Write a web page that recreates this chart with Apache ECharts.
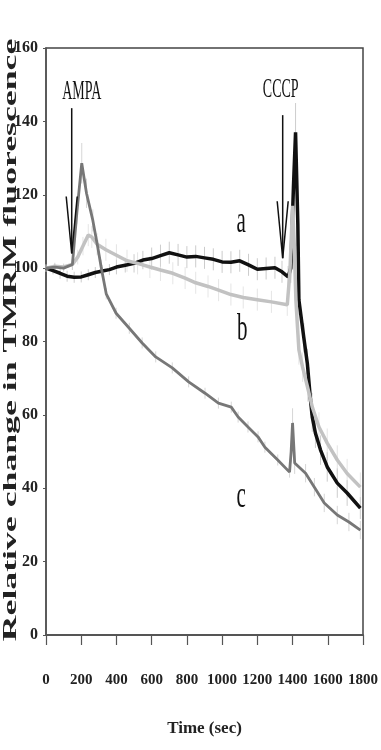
<!DOCTYPE html>
<html>
<head>
<meta charset="utf-8">
<script src="https://cdn.jsdelivr.net/npm/echarts@6/dist/echarts.min.js"></script>
<style>
  html, body { margin: 0; padding: 0; background: #fff; }
  #container { width: 381px; height: 750px; }
</style>
</head>
<body>
<div id="container"></div>
<script>
// curve a (black)
var aTime = [0, 40, 80, 120, 160, 200, 240, 280, 320, 360, 400, 450, 500, 550, 600, 650, 700, 750, 800, 850, 900, 950, 1000, 1050, 1100, 1150, 1200, 1250, 1300, 1340, 1375, 1390, 1405, 1417, 1430, 1436, 1464, 1484, 1493, 1502, 1512, 1530, 1559, 1597, 1654, 1710, 1785];
var aVal = [100, 99.3, 98.6, 97.8, 97.5, 97.6, 98.2, 98.8, 99.2, 99.6, 100.3, 100.8, 101.3, 102.2, 102.6, 103.4, 104.2, 103.6, 103, 103.2, 102.8, 102.4, 101.7, 101.6, 102, 100.9, 99.7, 99.9, 100.1, 99, 97.6, 100, 122, 137, 112, 91.3, 81, 74, 69, 64, 59.4, 55, 50.4, 45.8, 41.4, 38.7, 34.6];
var aErr = [1, 1, 1.5, 1.5, 1.5, 1.5, 1.5, 1.5, 1.5, 1.5, 2, 2, 2.5, 2.5, 3, 3, 3, 3, 3, 3, 3, 3, 3, 3, 3, 3, 3, 3, 3, 3, 3, 4, 6, 8, 6, 4, 4, 4, 4, 4, 4, 4, 4, 4, 4, 3.5, 3];

// curve b (light grey)
var bTime = [0, 50, 100, 150, 180, 210, 240, 260, 290, 340, 400, 460, 520, 590, 650, 720, 790, 850, 920, 980, 1050, 1120, 1200, 1280, 1370, 1385, 1400, 1410, 1419, 1428, 1436, 1457, 1485, 1513, 1550, 1597, 1654, 1710, 1785];
var bVal = [100, 100.5, 100.3, 101, 103, 106, 109, 108.5, 106.5, 105, 103.5, 102, 101.3, 100.3, 99.5, 98.6, 97.3, 96, 95, 94, 92.8, 92, 91.4, 90.8, 90, 99, 117, 106, 91.3, 84, 77.7, 73, 67.6, 62, 56.7, 52.3, 47.7, 44, 40.3];
var bErr = [1, 1, 1, 1.5, 2, 2.5, 3, 3, 3, 3, 3, 3, 3, 3, 3, 3, 3, 3, 3, 3, 3, 3, 3, 3, 3, 3, 5, 4, 4, 4, 4, 4, 4, 4, 4, 4, 4, 4, 4];

// curve c (mid grey)
var cTime = [0, 50, 100, 150, 175, 203, 230, 266, 294, 313, 342, 398, 473, 546, 623, 717, 810, 903, 979, 1052, 1091, 1147, 1204, 1243, 1316, 1383, 1392, 1400, 1412, 1474, 1524, 1580, 1654, 1720, 1785];
var cVal = [100, 100.3, 100, 101, 115, 128.6, 120.4, 113, 105.7, 100.3, 93, 87.7, 83.6, 79.6, 75.8, 72.8, 69, 65.9, 63.2, 62.1, 59.4, 56.7, 54, 51.2, 47.7, 44.4, 50, 57.8, 46.9, 44.1, 40.3, 36, 32.7, 30.8, 28.6];
var cErr = [1, 1, 1, 1.5, 3, 5.5, 4, 3, 2, 2, 1.5, 1.5, 1.5, 1.5, 1.5, 1.5, 1.5, 1.5, 1.5, 1.5, 1.5, 1.5, 1.5, 1.5, 1.5, 1.5, 3, 4, 3, 2.5, 2.5, 2.5, 2.5, 2.5, 2.5];

// arrows (drug additions)
var arrowLabels = ['AMPA', 'CCCP'];
var arrowTime = [146, 1344];
var arrowTop = [143.6, 141.7];
var arrowTip = [104, 102.7];
var labelTime = [203, 1333];
var labelValue = [148, 148.5];

// curve letters
var letterNames = ['a', 'b', 'c'];
var letterTime = [1108, 1114, 1108];
var letterValue = [112.5, 83, 37.6];

var serif = '"Liberation Serif", "DejaVu Serif", serif';

function pairs(t, v) {
    return t.map(function (x, i) { return [x, v[i]]; });
}
function triples(t, v, e) {
    return t.map(function (x, i) { return [x, v[i], e[i]]; });
}

function errorSeries(t, v, e, color) {
    return {
        type: 'custom',
        z: 1,
        silent: true,
        data: triples(t, v, e),
        encode: { x: 0, y: 1 },
        renderItem: function (params, api) {
            var x = api.value(0), y = api.value(1), d = api.value(2);
            var p1 = api.coord([x, y - d]);
            var p2 = api.coord([x, y + d]);
            return {
                type: 'line',
                shape: { x1: p1[0], y1: p1[1], x2: p2[0], y2: p2[1] },
                style: { stroke: color, lineWidth: 0.6 }
            };
        }
    };
}

function lineSeries(name, t, v, color, width, z) {
    return {
        name: name,
        type: 'line',
        z: z,
        showSymbol: false,
        smooth: false,
        data: pairs(t, v),
        lineStyle: { color: color, width: width },
        itemStyle: { color: color }
    };
}

var dom = document.getElementById('container');
var myChart = echarts.init(dom);

var option = {
    animation: false,
    backgroundColor: '#fff',
    grid: {
        left: 46, right: 15, top: 48, bottom: 115,
        show: true, borderColor: '#444', borderWidth: 1.5
    },
    xAxis: {
        type: 'value',
        min: 0, max: 1800, interval: 200,
        name: 'Time (sec)',
        nameLocation: 'middle',
        nameGap: 85,
        nameTextStyle: { fontFamily: serif, fontWeight: 'bold', fontSize: 17, color: '#222' },
        axisLine: { show: true, onZero: false, lineStyle: { color: '#555', width: 2 } },
        axisTick: { show: true, length: 10, lineStyle: { color: '#555', width: 1.2 } },
        axisLabel: {
            margin: 38, fontFamily: serif, fontWeight: 'bold', fontSize: 15, color: '#222',
            formatter: function (v) { return String(v); }
        },
        splitLine: { show: false }
    },
    yAxis: {
        type: 'value',
        min: 0, max: 160, interval: 20,
        axisLine: { show: true, onZero: false, lineStyle: { color: '#555', width: 1.5 } },
        axisTick: { show: true, length: 3, lineStyle: { color: '#555' } },
        axisLabel: {
            margin: 8, fontFamily: serif, fontWeight: 'bold', fontSize: 16, color: '#222',
            formatter: function (v) { return String(v); }
        },
        splitLine: { show: false }
    },
    graphic: [{
        type: 'text',
        x: 11, y: 340,
        rotation: Math.PI / 2,
        scaleX: 1.88,
        style: {
            text: 'Relative change in TMRM fluorescence',
            font: 'bold 19px ' + serif,
            fill: '#222',
            align: 'center', verticalAlign: 'middle',
            textAlign: 'center', textVerticalAlign: 'middle'
        }
    }],
    series: [
        errorSeries(aTime, aVal, aErr, '#aaa'),
        errorSeries(bTime, bVal, bErr, '#d4d4d4'),
        errorSeries(cTime, cVal, cErr, '#bbb'),
        lineSeries('a', aTime, aVal, '#111', 3.5, 3),
        lineSeries('b', bTime, bVal, '#c2c2c2', 3.5, 4),
        lineSeries('c', cTime, cVal, '#777', 2.8, 5),
        {
            type: 'custom',
            z: 10,
            silent: true,
            data: arrowTime.map(function (t, i) {
                return [t, arrowTop[i], arrowTip[i], labelTime[i], labelValue[i]];
            }),
            encode: { x: 0, y: 1 },
            renderItem: function (params, api) {
                var i = params.dataIndex;
                var top = api.coord([api.value(0), api.value(1)]);
                var tip = api.coord([api.value(0), api.value(2)]);
                var lab = api.coord([api.value(3), api.value(4)]);
                return {
                    type: 'group',
                    children: [
                        { type: 'line', shape: { x1: top[0], y1: top[1], x2: tip[0], y2: tip[1] },
                          style: { stroke: '#111', lineWidth: 1.5 } },
                        { type: 'polyline',
                          shape: { points: [[tip[0] - 5.5, tip[1] - 57], [tip[0], tip[1]], [tip[0] + 5.5, tip[1] - 57]] },
                          style: { stroke: '#111', fill: null, lineWidth: 1.5 } },
                        { type: 'text', x: lab[0], y: lab[1], scaleY: 1.9,
                          style: { x: 0, y: 0, text: arrowLabels[i], font: '14px ' + serif, fill: '#111',
                                   align: 'center', verticalAlign: 'middle',
                                   textAlign: 'center', textVerticalAlign: 'middle' } }
                    ]
                };
            }
        },
        {
            type: 'custom',
            z: 10,
            silent: true,
            data: pairs(letterTime, letterValue),
            encode: { x: 0, y: 1 },
            renderItem: function (params, api) {
                var p = api.coord([api.value(0), api.value(1)]);
                return {
                    type: 'text', x: p[0], y: p[1], scaleY: 1.8,
                    style: { x: 0, y: 0, text: letterNames[params.dataIndex], font: '21px ' + serif, fill: '#111',
                             align: 'center', verticalAlign: 'middle',
                             textAlign: 'center', textVerticalAlign: 'middle' }
                };
            }
        }
    ]
};

myChart.setOption(option, true);
</script>
</body>
</html>
